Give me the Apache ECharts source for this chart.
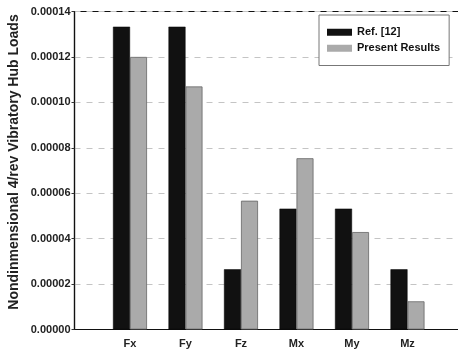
<!DOCTYPE html>
<html><head><meta charset="utf-8">
<script src="https://cdn.jsdelivr.net/npm/echarts@6/dist/echarts.min.js"></script>
<style>html,body{margin:0;padding:0;background:#fff}#c{width:458px;height:355px}</style>
</head><body><div id="c"></div>
<script>
const categories = ['Fx', 'Fy', 'Fz', 'Mx', 'My', 'Mz'];
const refValues = [0.0001333, 0.0001333, 0.0000265, 0.0000532, 0.0000532, 0.0000265];
const presentValues = [0.0001200, 0.0001070, 0.0000567, 0.0000754, 0.0000429, 0.0000124];
const yTicks = ['0.00000','0.00002','0.00004','0.00006','0.00008','0.00010','0.00012','0.00014'];
const seriesNames = ['Ref. [12]', 'Present Results'];
const yTitle = 'Nondinmensional 4/rev Vibratory Hub Loads';

const axisCats = [''].concat(categories, ['']);
const pad = v => [null].concat(v, [null]);
const font = 'Liberation Sans, Arial, sans-serif';

const chart = echarts.init(document.getElementById('c'), null, {renderer: 'canvas'});
chart.setOption({
  animation: false,
  backgroundColor: '#fff',
  grid: {left: 74.5, top: 11.5, height: 318, width: 388.5, outerBoundsMode: 'none', containLabel: false,
    show: true, borderColor: '#111', borderWidth: 1.2, backgroundColor: 'transparent'},
  legend: {
    data: seriesNames, orient: 'vertical', left: 319, top: 15,
    itemWidth: 25, itemHeight: 7, itemGap: 3.5,
    padding: [11, 9, 11, 8],
    borderColor: '#777', borderWidth: 1, backgroundColor: '#fff',
    itemStyle: {borderWidth: 0},
    textStyle: {fontFamily: font, fontWeight: 'bold', fontSize: 11, color: '#111', lineHeight: 12.5},
    icon: 'rect'
  },
  xAxis: {
    type: 'category', data: axisCats, boundaryGap: false,
    axisLine: {lineStyle: {color: '#111', width: 1.2}},
    axisTick: {show: false},
    axisLabel: {fontFamily: font, fontWeight: 'bold', fontSize: 11, color: '#222', margin: 9, interval: 0},
    splitLine: {show: false}
  },
  yAxis: {
    type: 'value', min: 0, max: 0.00014, interval: 0.00002,
    axisLine: {show: true, lineStyle: {color: '#111', width: 1.2}},
    axisTick: {show: true, length: 3, lineStyle: {color: '#333'}},
    axisLabel: {fontFamily: font, fontWeight: 'bold', fontSize: 11, color: '#222', margin: 4,
      formatter: (v) => yTicks[Math.round(v / 0.00002)]},
    splitLine: {show: true, lineStyle: {color: '#c4c4c4', type: [6, 6], width: 1}}
  },
  graphic: [{
    type: 'text', x: 14, y: 162, rotation: Math.PI / 2,
    style: {text: yTitle, fontFamily: font, fontWeight: 'bold', fontSize: 14, fill: '#222', align: 'center', verticalAlign: 'middle'}
  }],
  series: [
    {name: seriesNames[0], type: 'bar', data: pad(refValues), barWidth: 17, barGap: '0%',
      itemStyle: {color: '#111', borderColor: '#000', borderWidth: 0.5}},
    {name: seriesNames[1], type: 'bar', data: pad(presentValues), barWidth: 17, barGap: '0%',
      itemStyle: {color: '#aaa', borderColor: '#666', borderWidth: 0.8}}
  ]
});
</script></body></html>
